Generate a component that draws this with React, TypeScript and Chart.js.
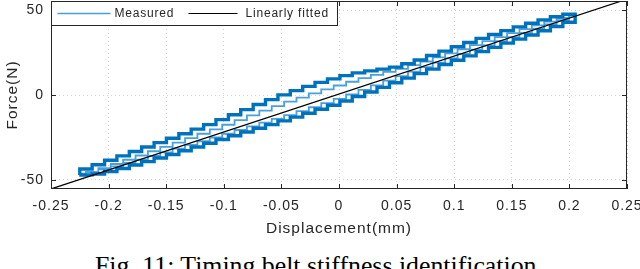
import React, { useEffect, useRef } from "react";
import { Chart, registerables } from "chart.js";

Chart.register(...registerables);

// Displacement (mm) at each step of the measured staircase
const displacementSteps = [
  -0.225, -0.2143, -0.2035, -0.1928, -0.182, -0.1713, -0.1605, -0.1498, -0.139, -0.1283,
  -0.1175, -0.1068, -0.096, -0.0853, -0.0745, -0.0638, -0.053, -0.0423, -0.0315, -0.0208,
  -0.01, 0.0008, 0.0115, 0.0223, 0.033, 0.0438, 0.0545, 0.0653, 0.076, 0.0868,
  0.0975, 0.1083, 0.119, 0.1298, 0.1405, 0.1513, 0.162, 0.1728, 0.1835, 0.1943, 0.205,
];

// Cycle 1 (N)
const loadingForce1 = [
  -47.0, -46.5, -45.0, -43.2, -41.2, -39.2, -37.1, -35.0, -32.8, -30.6,
  -28.4, -26.2, -24.0, -21.8, -19.6, -17.4, -15.2, -13.0, -10.7, -8.4,
  -6.0, -3.5, -0.9, 1.8, 4.5, 7.2, 9.9, 12.6, 15.2, 17.9,
  20.4, 23.0, 25.5, 28.0, 30.5, 32.9, 35.3, 37.8, 40.3, 42.8, 45.5,
];
const unloadingForce1 = [
  -46.2, -43.5, -41.0, -38.4, -35.8, -33.2, -30.6, -28.0, -25.4, -22.8,
  -20.1, -17.4, -14.5, -11.6, -8.6, -5.6, -2.7, 0.1, 2.6, 5.1,
  7.4, 9.5, 11.4, 13.0, 14.2, 15.2, 16.4, 18.4, 20.6, 23.2,
  25.8, 28.4, 30.9, 33.3, 35.6, 37.9, 40.1, 42.2, 44.2, 46.0, 47.5,
];

// Cycle 2 (N)
const loadingForce2 = [
  -46.3, -45.3, -43.8, -42.0, -40.0, -38.0, -35.9, -33.8, -31.6, -29.4,
  -27.2, -25.0, -22.8, -20.6, -18.4, -16.2, -14.0, -11.8, -9.5, -7.2,
  -4.8, -2.3, 0.3, 3.0, 5.7, 8.4, 11.1, 13.8, 16.4, 19.1,
  21.6, 24.2, 26.7, 29.2, 31.7, 34.1, 36.5, 39.0, 41.5, 44.0, 46.5,
];
const unloadingForce2 = [
  -47.5, -45.3, -43.0, -40.6, -38.1, -35.6, -33.1, -30.5, -28.0, -25.4,
  -22.8, -20.2, -17.5, -14.8, -12.0, -9.2, -6.5, -3.9, -1.5, 1.0,
  3.3, 5.6, 7.8, 9.9, 11.8, 13.6, 15.4, 17.6, 19.7, 22.1,
  24.5, 26.9, 29.3, 31.7, 34.0, 36.4, 38.7, 41.0, 43.2, 45.3, 47.0,
];

// Linear fit
const fitDisplacement = [-0.25, 0.25];
const fitForce = [-55.3, 56.4];

const xTickValues = [-0.25, -0.2, -0.15, -0.1, -0.05, 0, 0.05, 0.1, 0.15, 0.2, 0.25];
const yTickValues = [-50, 0, 50];
const seriesLabels = ["Measured", "Linearly fitted"];
const axisTitles = ["Displacement(mm)", "Force(N)"];
const captionText = "Fig. 11: Timing belt stiffness identification";

const SANS = '"Liberation Sans", Arial, Helvetica, sans-serif';
const TEXT = "#262626";
const BLUE = "#0072BD";
const LIGHT_BLUE = "#4aa0dc";

function loopPoints(lower: number[], upper: number[]) {
  const fwd = displacementSteps.map((x, i) => ({ x, y: lower[i] }));
  const back = displacementSteps.map((x, i) => ({ x, y: upper[i] })).reverse();
  return fwd.concat(back, [fwd[0]]);
}

const matlabAxes = {
  id: "matlabAxes",
  beforeLayout(chart: any) {
    chart.ctx.letterSpacing = "1px";
  },
  beforeDraw(chart: any) {
    chart.ctx.letterSpacing = "1px";
  },
  afterDraw(chart: any) {
    const { ctx, chartArea: a, scales } = chart;
    ctx.save();
    ctx.strokeStyle = TEXT;
    ctx.lineWidth = 1;
    ctx.beginPath();
    xTickValues.forEach((v) => {
      const px = Math.round(scales.x.getPixelForValue(v)) + 0.5;
      ctx.moveTo(px, a.bottom);
      ctx.lineTo(px, a.bottom - 5);
      ctx.moveTo(px, a.top);
      ctx.lineTo(px, a.top + 5);
    });
    yTickValues.forEach((v) => {
      const py = Math.round(scales.y.getPixelForValue(v)) + 0.5;
      ctx.moveTo(a.left, py);
      ctx.lineTo(a.left + 5, py);
      ctx.moveTo(a.right, py);
      ctx.lineTo(a.right - 5, py);
    });
    ctx.stroke();
    const L = Math.round(a.left) + 0.5;
    const T = Math.round(a.top) + 0.5;
    ctx.strokeRect(L, T, Math.round(a.right - a.left) - 1, Math.round(a.bottom - a.top) - 1);

    // legend
    const lw = 286;
    const lh = 24;
    ctx.fillStyle = "#ffffff";
    ctx.fillRect(L, T, lw, lh);
    ctx.strokeStyle = TEXT;
    ctx.strokeRect(L, T, lw, lh);
    const my = T + 12;
    ctx.beginPath();
    ctx.strokeStyle = LIGHT_BLUE;
    ctx.lineWidth = 1.5;
    ctx.moveTo(L + 6, my);
    ctx.lineTo(L + 59, my);
    ctx.stroke();
    ctx.beginPath();
    ctx.strokeStyle = "#000000";
    ctx.lineWidth = 1.2;
    ctx.moveTo(L + 137, my);
    ctx.lineTo(L + 186, my);
    ctx.stroke();
    ctx.letterSpacing = "0.8px";
    ctx.fillStyle = TEXT;
    ctx.font = `12px ${SANS}`;
    ctx.textBaseline = "middle";
    ctx.textAlign = "left";
    ctx.fillText(seriesLabels[0], L + 63, my + 0.5);
    ctx.fillText(seriesLabels[1], L + 194, my + 0.5);
    ctx.restore();
  },
};

export default function App() {
  const canvasRef = useRef<HTMLCanvasElement | null>(null);

  useEffect(() => {
    document.body.style.margin = "0";
    const canvas = canvasRef.current;
    if (!canvas) return;
    const chart = new Chart(canvas, {
      type: "line",
      data: {
        datasets: [
          {
            label: seriesLabels[1],
            data: fitDisplacement.map((x, i) => ({ x, y: fitForce[i] })),
            borderColor: "#000000",
            borderWidth: 1.2,
            pointRadius: 0,
            fill: false,
          },
          {
            label: seriesLabels[0],
            data: loopPoints(loadingForce1, unloadingForce1),
            borderColor: BLUE,
            borderWidth: 3.4,
            pointRadius: 0,
            stepped: true,
            fill: false,
          },
          {
            label: seriesLabels[0] + " 2",
            data: loopPoints(loadingForce2, unloadingForce2),
            borderColor: LIGHT_BLUE,
            borderWidth: 1.8,
            pointRadius: 0,
            stepped: "middle",
            fill: false,
          },
        ],
      },
      options: {
        responsive: false,
        animation: false,
        devicePixelRatio: 1,
        layout: { padding: { top: 1, right: 13, left: 0, bottom: 0 } },
        plugins: { legend: { display: false }, tooltip: { enabled: false } },
        scales: {
          x: {
            type: "linear",
            min: -0.25,
            max: 0.25,
            afterBuildTicks: (s: any) => {
              s.ticks = xTickValues.map((v) => ({ value: v }));
            },
            afterFit: (s: any) => {
              s.height = 51;
              s.paddingLeft = 0;
              s.paddingRight = 0;
            },
            grid: { color: "#d4d4d4", lineWidth: 1, drawTicks: false },
            border: { display: false, dash: [1, 3] },
            ticks: {
              padding: 9,
              color: TEXT,
              font: { family: SANS, size: 14 },
              maxRotation: 0,
              autoSkip: false,
              callback: (v: any) => String(v),
            },
            title: {
              display: true,
              text: axisTitles[0],
              color: TEXT,
              font: { family: SANS, size: 15.5 },
              padding: { top: 0, bottom: 2 },
            },
          },
          y: {
            type: "linear",
            min: -55.3,
            max: 55.3,
            afterBuildTicks: (s: any) => {
              s.ticks = yTickValues.map((v) => ({ value: v }));
            },
            afterFit: (s: any) => {
              s.width = 51;
              s.paddingTop = 0;
              s.paddingBottom = 0;
            },
            grid: { color: "#d4d4d4", lineWidth: 1, drawTicks: false },
            border: { display: false, dash: [1, 3] },
            ticks: {
              padding: 7,
              color: TEXT,
              font: { family: SANS, size: 14 },
              callback: (v: any) => String(v),
            },
            title: {
              display: true,
              text: axisTitles[1],
              color: TEXT,
              font: { family: SANS, size: 15.5 },
              padding: { top: 3, bottom: 0 },
            },
          },
        },
      },
      plugins: [matlabAxes],
    } as any);
    return () => chart.destroy();
  }, []);

  return (
    <div style={{ position: "relative", width: 640, height: 269, overflow: "hidden", background: "#fff" }}>
      <canvas ref={canvasRef} width={640} height={240} style={{ display: "block", width: 640, height: 240 }} />
      <div
        style={{
          position: "absolute",
          left: 95,
          top: 253,
          fontFamily: '"Liberation Serif", "Times New Roman", serif',
          fontSize: 25.8,
          lineHeight: 1,
          whiteSpace: "nowrap",
          color: "#000",
        }}
      >
        {captionText}
      </div>
    </div>
  );
}
